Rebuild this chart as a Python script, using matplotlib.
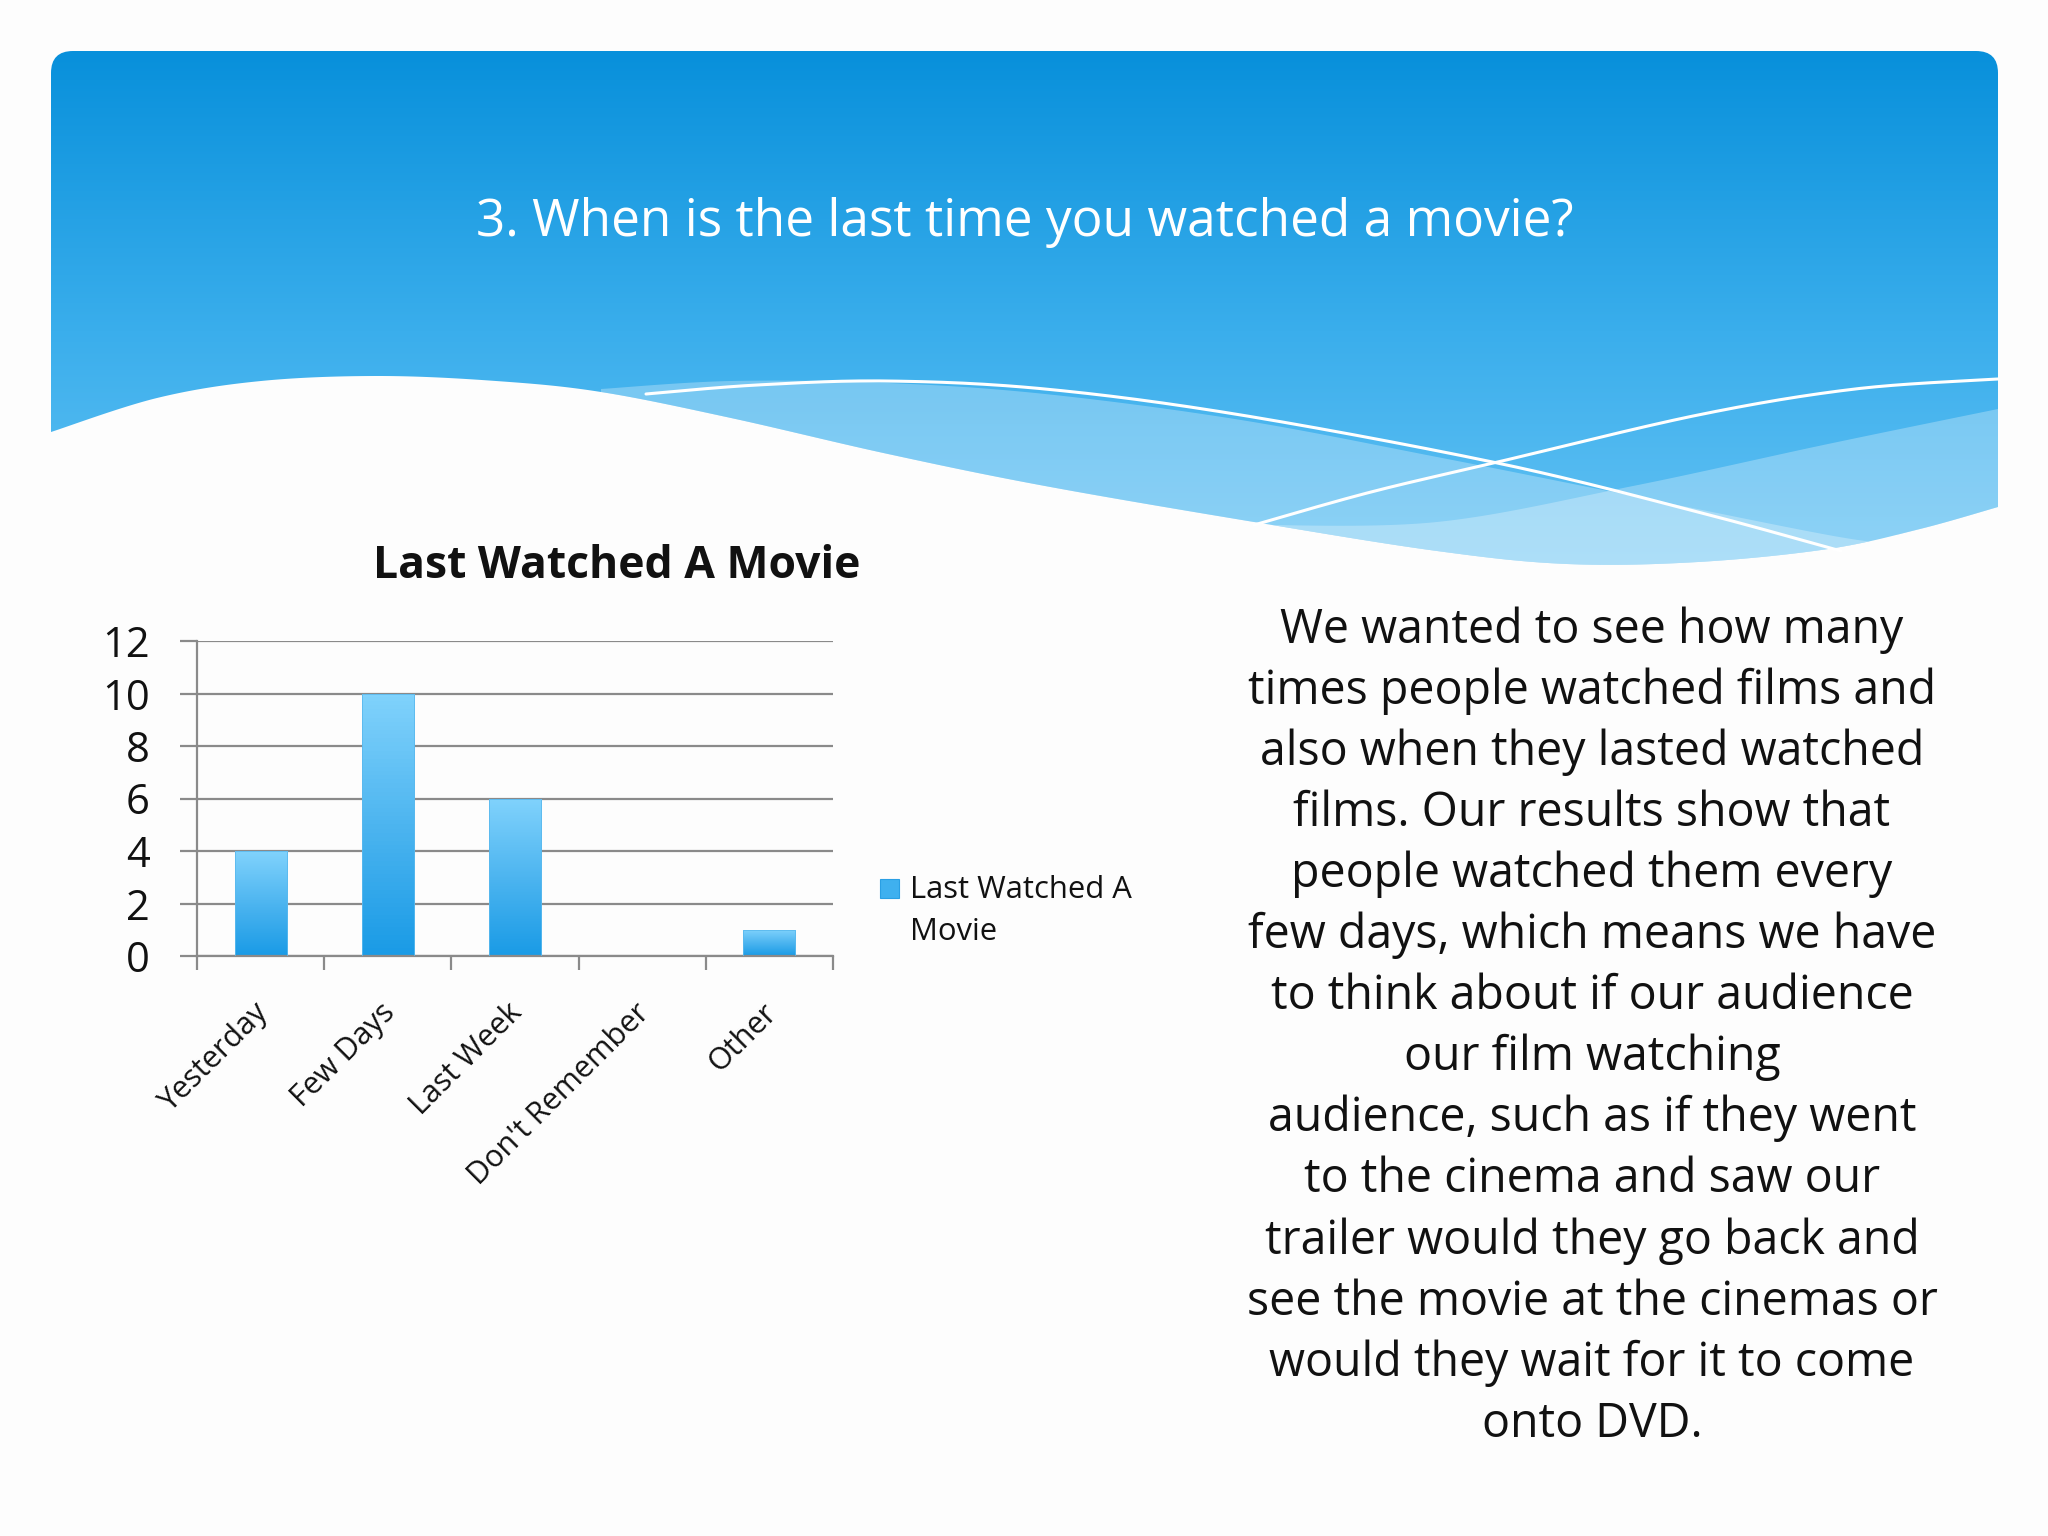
import numpy as np
import matplotlib
matplotlib.use("Agg")
import matplotlib.pyplot as plt
import matplotlib.transforms as mtransforms
from matplotlib.patches import FancyBboxPatch, Polygon, Rectangle
from matplotlib.colors import LinearSegmentedColormap

# data
categories = ["Yesterday", "Few Days", "Last Week", "Don't Remember", "Other"]
counts = [4, 10, 6, 0, 1]
series_name = "Last Watched A Movie"
y_ticks = [0, 2, 4, 6, 8, 10, 12]

slide_title = "3. When is the last time you watched a movie?"
chart_title = "Last Watched A Movie"
legend_label = "Last Watched A\nMovie"
body_lines = [
    "We wanted to see how many",
    "times people watched films and",
    "also when they lasted watched",
    "films. Our results show that",
    "people watched them every",
    "few days, which means we have",
    "to think about if our audience",
    "our film watching",
    "audience, such as if they went",
    "to the cinema and saw our",
    "trailer would they go back and",
    "see the movie at the cinemas or",
    "would they wait for it to come",
    "onto DVD.",
]

W, H = 2048, 1536
FONT = "Open Sans"
plt.rcParams["font.family"] = [FONT, "DejaVu Sans"]


def smooth(pts, n=30):
    # catmull-rom through the given outline points
    pts = np.asarray(pts, float)
    p = np.vstack([pts[0], pts, pts[-1]])
    out = []
    for i in range(1, len(p) - 2):
        p0, p1, p2, p3 = p[i - 1], p[i], p[i + 1], p[i + 2]
        t = np.linspace(0, 1, n, endpoint=False)[:, None]
        out.append(0.5 * ((2 * p1) + (-p0 + p2) * t
                          + (2 * p0 - 5 * p1 + 4 * p2 - p3) * t ** 2
                          + (-p0 + 3 * p1 - 3 * p2 + p3) * t ** 3))
    out.append(pts[-1:])
    return np.vstack(out)


fig = plt.figure(figsize=(W / 100, H / 100), dpi=100)
fig.patch.set_facecolor("#fdfdfd")

# slide background drawn in pixel coordinates
bg = fig.add_axes([0, 0, 1, 1])
bg.set_xlim(0, W)
bg.set_ylim(H, 0)
bg.axis("off")

header = FancyBboxPatch((51, 51), 1947, 560, boxstyle="round,pad=0,rounding_size=22",
                        fc="none", ec="none")
bg.add_patch(header)
grad = np.linspace(0, 1, 256)[:, None]
hcmap = LinearSegmentedColormap.from_list("hdr", ["#0890db", "#3aaeec", "#6cc6f5"])
im = bg.imshow(grad, cmap=hcmap, extent=(51, 1998, 611, 51), aspect="auto", zorder=1)
im.set_clip_path(header)

white_edge = [(51, 432), (157, 398), (261, 381), (379, 376), (496, 381), (601, 392),
              (731, 418), (888, 454), (1045, 486), (1254, 522), (1437, 551),
              (1567, 564), (1698, 562), (1828, 549), (1920, 529), (1998, 507)]
edge = smooth(white_edge)

band_a = smooth([(601, 389), (731, 381), (888, 383), (1045, 394), (1241, 420),
                 (1437, 457), (1633, 496), (1828, 535), (1900, 545)])
band_a_low = edge[(edge[:, 0] >= 601) & (edge[:, 0] <= 1900)][::-1]
bg.add_patch(Polygon(np.vstack([band_a, band_a_low]), closed=True, fc="white",
                     ec="none", alpha=0.28, zorder=2))
band_b = smooth([(1998, 409), (1828, 444), (1633, 486), (1437, 522), (1254, 525)])
band_b_low = edge[(edge[:, 0] >= 1254)]
bg.add_patch(Polygon(np.vstack([band_b, band_b_low]), closed=True, fc="white",
                     ec="none", alpha=0.28, zorder=2))

white_area = np.vstack([edge, [(1998, 640), (51, 640)]])
bg.add_patch(Polygon(white_area, closed=True, fc="#fdfdfd", ec="none", zorder=3))

line1 = smooth([(646, 394), (757, 385), (888, 381), (1045, 389), (1241, 415),
                (1502, 464), (1698, 512), (1841, 551)])
line2 = smooth([(1254, 525), (1371, 492), (1502, 461), (1698, 415), (1855, 389),
                (1998, 379)])
for ln in (line1, line2):
    bg.plot(ln[:, 0], ln[:, 1], color="white", lw=2.2, zorder=4, solid_capstyle="round")

bg.text(1025, 222, slide_title, color="white", fontsize=37, ha="center", va="center",
        zorder=5)

# right hand paragraph
bg.text(1592, 1027, "\n".join(body_lines), fontsize=33.5, ha="center", va="center",
        linespacing=1.372, color="#111111", zorder=5)

# chart title and legend
bg.text(617, 566, chart_title, fontsize=32, fontweight="bold", ha="center",
        va="center", color="#111111", zorder=5)
bg.add_patch(Rectangle((880, 879), 19, 19, fc="#3fb0ef", ec="#2a9fe4", lw=0.8, zorder=5))
bg.text(910, 875, legend_label, fontsize=22.3, ha="left", va="top",
        linespacing=1.51, color="#111111", zorder=5)

# the bar chart
ax = fig.add_axes([197 / W, 1 - 956 / H, (833 - 197) / W, (956 - 641) / H])
ax.patch.set_alpha(0)
x = np.arange(len(categories))
bars = ax.bar(x, counts, width=0.41, color="none", edgecolor="#5ab9ee", lw=0.6, zorder=3)
bcmap = LinearSegmentedColormap.from_list("bar", ["#1a9be6", "#4db5f0", "#80d2fc"])
for b in bars:
    x0, w, h = b.get_x(), b.get_width(), b.get_height()
    if h <= 0:
        continue
    g = ax.imshow(np.linspace(1, 0, 64)[:, None], cmap=bcmap, aspect="auto",
                  extent=(x0, x0 + w, 0, h), zorder=2)
    g.set_clip_path(b)

ax.set_xlim(-0.5, len(categories) - 0.5)
ax.set_ylim(0, 12)
ax.set_yticks(y_ticks)
ax.set_yticklabels([str(v) for v in y_ticks])
ax.yaxis.grid(True, color="#8a8a8a", lw=1.6, zorder=0)
ax.set_axisbelow(True)
for s in ("top", "right"):
    ax.spines[s].set_visible(False)
for s in ("left", "bottom"):
    ax.spines[s].set_color("#8a8a8a")
    ax.spines[s].set_linewidth(1.6)
ax.tick_params(axis="y", length=12, width=1.6, color="#8a8a8a", pad=22,
               labelsize=30, labelcolor="#111111")
ax.set_xticks(x)
ax.set_xticklabels(categories, rotation=45, ha="right", va="top",
                   rotation_mode="anchor", fontsize=22, color="#111111")
ax.tick_params(axis="x", which="major", length=0, pad=30)
shift = mtransforms.ScaledTranslation(-8 / 100, 0, fig.dpi_scale_trans)
for lab in ax.get_xticklabels():
    lab.set_transform(lab.get_transform() + shift)
ax.set_xticks(np.arange(len(categories) + 1) - 0.5, minor=True)
ax.tick_params(axis="x", which="minor", length=10, width=1.6, color="#8a8a8a")

fig.savefig("out.png", dpi=100, facecolor=fig.get_facecolor())
